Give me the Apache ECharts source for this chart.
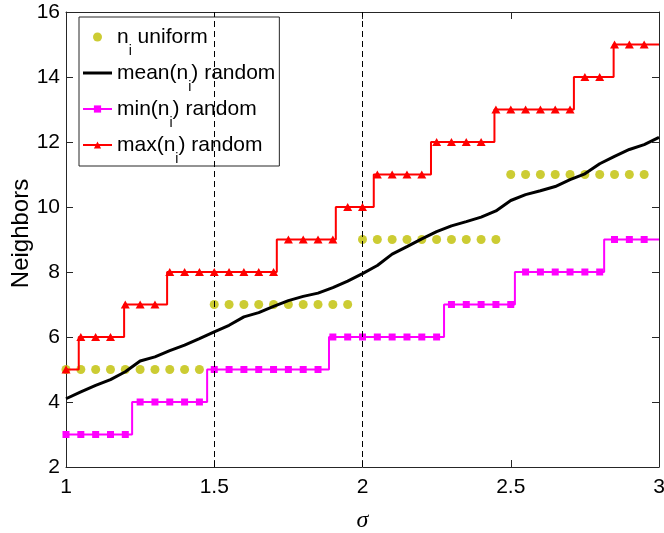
<!DOCTYPE html>
<html><head><meta charset="utf-8">
<script src="https://cdn.jsdelivr.net/npm/echarts@6/dist/echarts.min.js"></script>
<style>html,body{margin:0;padding:0;background:#fff}#c{width:664px;height:533px}</style>
</head><body><div id="c"></div>
<script>
// ---- data ----
const sigma = [1.00,1.05,1.10,1.15,1.20,1.25,1.30,1.35,1.40,1.45,
               1.50,1.55,1.60,1.65,1.70,1.75,1.80,1.85,1.90,1.95,
               2.00,2.05,2.10,2.15,2.20,2.25,2.30,2.35,2.40,2.45,
               2.50,2.55,2.60,2.65,2.70,2.75,2.80,2.85,2.90,2.95];
const sigmaEnd = 3.00;
const uniformN = [5,5,5,5,5,5,5,5,5,5, 7,7,7,7,7,7,7,7,7,7, 9,9,9,9,9,9,9,9,9,9, 11,11,11,11,11,11,11,11,11,11];
const meanSigma = [1.00,1.05,1.10,1.15,1.20,1.25,1.30,1.35,1.40,1.45,
                   1.50,1.55,1.60,1.65,1.70,1.75,1.80,1.85,1.90,1.95,
                   2.00,2.05,2.10,2.15,2.20,2.25,2.30,2.35,2.40,2.45,
                   2.50,2.55,2.60,2.65,2.70,2.75,2.80,2.85,2.90,2.95,3.00];
const meanN = [4.10,4.31,4.51,4.69,4.93,5.26,5.39,5.58,5.75,5.95,
               6.16,6.36,6.62,6.75,6.94,7.12,7.25,7.35,7.52,7.72,
               7.95,8.20,8.55,8.78,9.02,9.24,9.42,9.55,9.69,9.88,
               10.20,10.38,10.50,10.63,10.84,11.02,11.33,11.56,11.77,11.92,12.14];
const minN = [3,3,3,3,3, 4,4,4,4,4, 5,5,5,5,5,5,5,5, 6,6,6,6,6,6,6,6, 7,7,7,7,7, 8,8,8,8,8,8, 9,9,9];
const minJumps = [1.223,1.476,1.887,2.275,2.514,2.815];
const maxN = [5, 6,6,6, 7,7,7, 8,8,8,8,8,8,8,8, 9,9,9,9, 10,10, 11,11,11,11, 12,12,12,12, 13,13,13,13,13,13, 14,14, 15,15,15];
const maxJumps = [1.043,1.196,1.341,1.711,1.910,2.038,2.231,2.445,2.713,2.847];
const refSigma = [1.5, 2.0];
const xRange = {min:1, max:3, interval:0.5};
const yRange = {min:2, max:16, interval:2};
const names = ['ni uniform','mean(ni) random','min(ni) random','max(ni) random'];
const legendText = ['n{s|i} uniform','mean(n{s|i}) random','min(n{s|i}) random','max(n{s|i}) random'];

// ---- build ----
const FONT = '"Liberation Sans", Arial, sans-serif';
const AX = '#262626';
function stepData(vals, jumps){
  const out = []; let k = 0;
  for (let i = 0; i < sigma.length; i++){
    if (i > 0 && vals[i] !== vals[i-1]) out.push({value:[jumps[k++], vals[i]], symbol:'none'});
    out.push({value:[sigma[i], vals[i]]});
  }
  out.push({value:[sigmaEnd, vals[vals.length-1]], symbol:'none'});
  return out;
}
function axisCommon(r){
  return {type:'value', min:r.min, max:r.max, interval:r.interval,
    axisLine:{show:true, onZero:false, lineStyle:{color:AX, width:1}},
    axisTick:{show:true, inside:true, length:7, lineStyle:{color:AX, width:1}},
    splitLine:{show:false}, nameMoveOverlap:false};
}
const chart = echarts.init(document.getElementById('c'), null, {renderer:'canvas'});
chart.setOption({
  animation:false,
  backgroundColor:'#fff',
  grid:{left:66, right:5, top:12, bottom:66, containLabel:false, outerBoundsMode:'none'},
  xAxis:[
    Object.assign(axisCommon(xRange), {position:'bottom',
      axisLabel:{fontSize:21, color:'#000', fontFamily:FONT, margin:10},
      name:'σ', nameLocation:'middle', nameGap:42,
      nameTextStyle:{fontSize:24, fontStyle:'italic', fontFamily:'"Liberation Serif", serif', color:'#000'}}),
    Object.assign(axisCommon(xRange), {position:'top', axisLabel:{show:false}})
  ],
  yAxis:[
    Object.assign(axisCommon(yRange), {position:'left',
      axisLabel:{fontSize:21, color:'#000', fontFamily:FONT, margin:6},
      name:'Neighbors', nameLocation:'middle', nameGap:33,
      nameTextStyle:{fontSize:24, fontFamily:FONT, color:'#000', padding:[0,0,0,12]}}),
    Object.assign(axisCommon(yRange), {position:'right', axisLabel:{show:false}})
  ],
  legend:{
    orient:'vertical', left:79, top:17, padding:[9,4,0,3],
    itemWidth:29, itemHeight:9, itemGap:4,
    backgroundColor:'#fff', borderColor:AX, borderWidth:1, borderRadius:0,
    selectedMode:false,
    data:[{name:names[0]}, {name:names[1], icon:'path://M0,0H29V3H0Z'}, {name:names[2]}, {name:names[3]}],
    formatter: n => legendText[names.indexOf(n)],
    textStyle:{fontFamily:FONT, fontSize:21, color:'#000', lineHeight:22,
      rich:{s:{fontFamily:FONT, fontSize:14, color:'#000', padding:[14,0,-14,0]}}}
  },
  series:[
    {name:names[0], type:'scatter', symbol:'circle', symbolSize:9,
     itemStyle:{color:'#BFBF00'}, data: sigma.map((s,i)=>[s, uniformN[i]]), z:2},
    {name:names[1], type:'line', symbol:'none', showSymbol:false,
     lineStyle:{color:'#000', width:3}, itemStyle:{color:'#000'},
     data: meanSigma.map((s,i)=>[s, meanN[i]]), z:3},
    {name:names[2], type:'line', step:'end', symbol:'rect', symbolSize:7, showSymbol:true,
     lineStyle:{color:'#FF00FF', width:2}, itemStyle:{color:'#FF00FF'},
     data: stepData(minN, minJumps), z:4},
    {name:names[3], type:'line', step:'end', symbol:'triangle', symbolSize:[9,8], showSymbol:true,
     lineStyle:{color:'#FF0000', width:2}, itemStyle:{color:'#FF0000'},
     data: stepData(maxN, maxJumps), z:5},
    {name:'ref', type:'line', data:[], silent:true, z:1,
     markLine:{silent:true, symbol:['none','none'], label:{show:false},
       lineStyle:{color:'#000', width:1, type:[6,4]},
       data: refSigma.map(v=>({xAxis:v}))}}
  ]
});
</script></body></html>
